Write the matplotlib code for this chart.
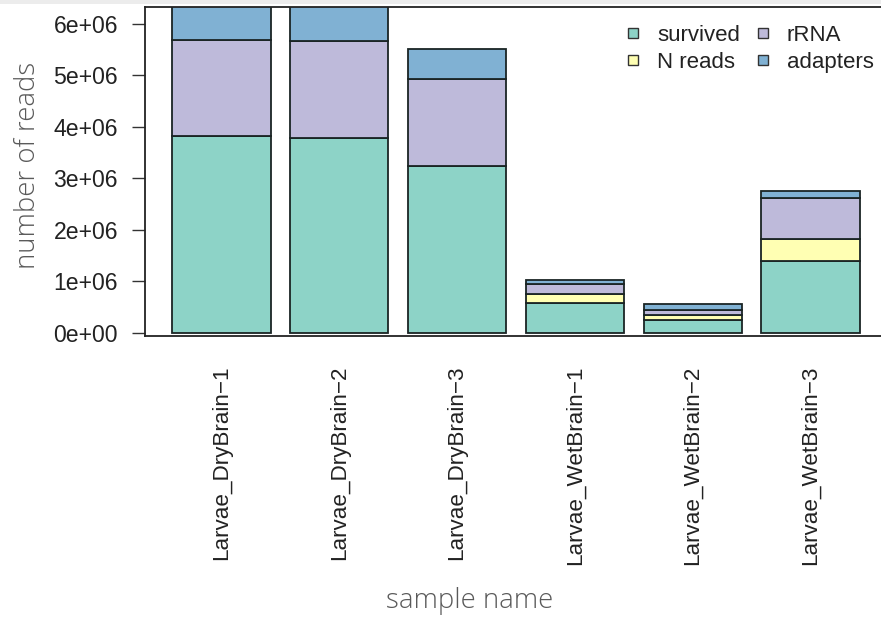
import matplotlib
matplotlib.use("Agg")
import matplotlib.pyplot as plt
from matplotlib.lines import Line2D
from matplotlib.patches import Rectangle
import numpy as np

# read counts per sample, stacked bottom to top
samples = ["Larvae_DryBrain\u22121", "Larvae_DryBrain\u22122", "Larvae_DryBrain\u22123",
           "Larvae_WetBrain\u22121", "Larvae_WetBrain\u22122", "Larvae_WetBrain\u22123"]
survived = [3.83e6, 3.79e6, 3.24e6, 0.59e6, 0.26e6, 1.40e6]
n_reads = [0.0, 0.0, 0.0, 0.16e6, 0.09e6, 0.42e6]
rrna = [1.85e6, 1.87e6, 1.69e6, 0.20e6, 0.10e6, 0.80e6]
adapters = [0.75e6, 0.72e6, 0.58e6, 0.07e6, 0.11e6, 0.14e6]

series_names = ["survived", "N reads", "rRNA", "adapters"]
series_colors = ["#8DD3C7", "#FFFFB3", "#BEBADA", "#80B1D3"]
yticks = [0, 1e6, 2e6, 3e6, 4e6, 5e6, 6e6]
ytick_labels = ["0e+00", "1e+06", "2e+06", "3e+06", "4e+06", "5e+06", "6e+06"]

W, H = 881, 619
fig = plt.figure(figsize=(W / 100, H / 100), dpi=100)
ax = fig.add_axes([145 / W, 1 - 336 / H, (887 - 145) / W, (336 - 7) / H])

# thin grey strip along the top edge
fig.patches.append(Rectangle((0, 1 - 4 / H), 1, 4 / H, transform=fig.transFigure,
                             facecolor="#ececec", edgecolor="none", zorder=0))

x = 0.7 + 1.2 * np.arange(len(samples))
bottom = np.zeros(len(samples))
for vals, col in zip([survived, n_reads, rrna, adapters], series_colors):
    vals = np.asarray(vals)
    ax.bar(x, vals, width=1.0, bottom=bottom, color=col, edgecolor="#1a2424",
           linewidth=1.3, zorder=2)
    bottom += vals

ax.set_xlim(-0.08, 7.48)
ax.set_ylim(-0.06e6, 6.33e6)

ax.set_yticks(yticks)
ax.set_yticklabels(ytick_labels, fontfamily="Liberation Sans", fontsize=16.6, color="#222222")
ax.set_xticks(x)
ax.set_xticklabels(samples, rotation=90, fontfamily="Liberation Sans", fontsize=16.2,
                   color="#222222")
ax.tick_params(axis="y", length=9.5, width=1.0, color="#333333", pad=10)
ax.tick_params(axis="x", length=0, pad=21)
for side in ax.spines.values():
    side.set_linewidth(1.3)
    side.set_color("#222222")

fig.text(469.5 / W, 1 - 601 / H, "sample name", ha="center", va="center",
         fontfamily="Open Sans", fontweight="light", fontsize=19.8, color="#5a5a5a")
fig.text(28 / W, 1 - 165 / H, "number of reads", ha="center", va="center", rotation=90,
         fontfamily="Open Sans", fontweight="light", fontsize=19.8, color="#5a5a5a")

handles = [Line2D([], [], linestyle="none", marker="s", markersize=6.5,
                  markerfacecolor=c, markeredgecolor="#333333", markeredgewidth=1.0)
           for c in series_colors]
ax.legend(handles, series_names, ncol=2, frameon=False, loc="upper left",
          bbox_to_anchor=(624 / W, 1 - 25 / H), bbox_transform=fig.transFigure,
          borderpad=0, borderaxespad=0, handlelength=0.8, handletextpad=0.68,
          columnspacing=0.63, labelspacing=0.26,
          prop={"family": "Liberation Sans", "size": 16})
for t in ax.get_legend().get_texts():
    t.set_color("#222222")

fig.savefig("out.png", dpi=100)
